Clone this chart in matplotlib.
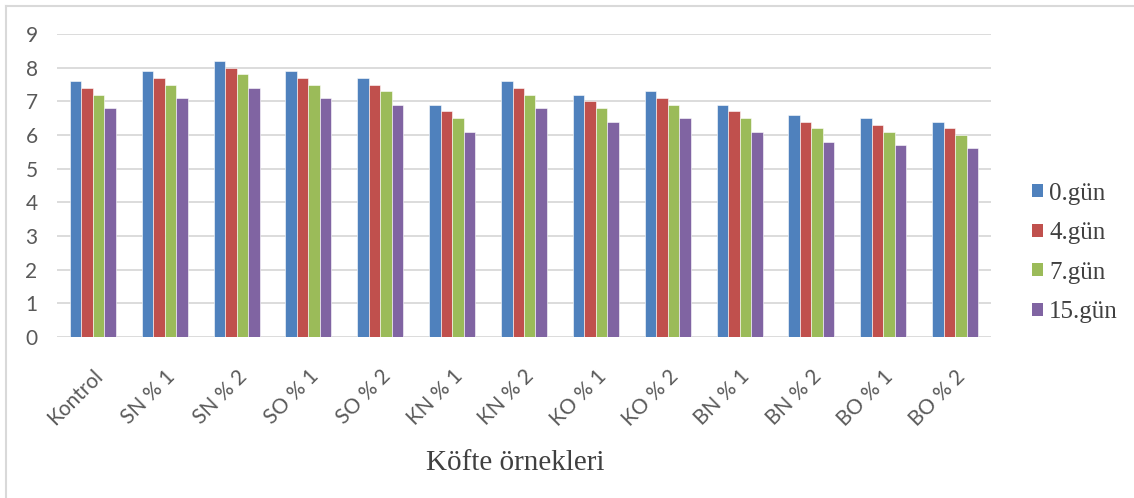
import numpy as np
import matplotlib
matplotlib.use("Agg")
import matplotlib.pyplot as plt
from matplotlib.lines import Line2D
from matplotlib.patches import Patch

# köfte örnekleri ve depolama günleri
categories = ["Kontrol", "SN % 1", "SN % 2", "SO % 1", "SO % 2", "KN % 1", "KN % 2",
              "KO % 1", "KO % 2", "BN % 1", "BN % 2", "BO % 1", "BO % 2"]
series_names = ["0.gün", "4.gün", "7.gün", "15.gün"]

gun_0 = [7.6, 7.9, 8.2, 7.9, 7.7, 6.9, 7.6, 7.2, 7.3, 6.9, 6.6, 6.5, 6.4]
gun_4 = [7.4, 7.7, 8.0, 7.7, 7.5, 6.7, 7.4, 7.0, 7.1, 6.7, 6.4, 6.3, 6.2]
gun_7 = [7.2, 7.5, 7.8, 7.5, 7.3, 6.5, 7.2, 6.8, 6.9, 6.5, 6.2, 6.1, 6.0]
gun_15 = [6.8, 7.1, 7.4, 7.1, 6.9, 6.1, 6.8, 6.4, 6.5, 6.1, 5.8, 5.7, 5.6]

yticks = list(range(0, 10))

colors = ["#4F81BD", "#C0504D", "#9BBB59", "#8064A2"]

fig = plt.figure(figsize=(11.34, 4.98), dpi=100)
ax = fig.add_axes([57 / 1134, 1 - 337 / 498, (991 - 57) / 1134, (337 - 34) / 498])

x = np.arange(len(categories))
w = 0.16
for i, vals in enumerate([gun_0, gun_4, gun_7, gun_15]):
    ax.bar(x + (i - 1.5) * w, vals, width=w, color=colors[i],
           edgecolor="white", linewidth=0.4, zorder=3)

ax.set_xlim(-0.5, len(categories) - 0.5)
ax.set_ylim(0, 9)
ax.set_yticks(yticks)
ax.set_yticklabels([str(t) for t in yticks], family="Lato", fontsize=15, color="#595959")
ax.set_xticks(x)
ax.set_xticklabels(categories, rotation=45, ha="right", rotation_mode="anchor",
                   family="Lato", fontsize=15, color="#595959")
ax.tick_params(axis="both", length=0)
ax.tick_params(axis="y", pad=14)
ax.tick_params(axis="x", pad=21)
ax.yaxis.grid(True, color="#d9d9d9", linewidth=1.3, zorder=0)
ax.set_axisbelow(True)
for s in ax.spines.values():
    s.set_visible(False)

fig.text(515 / 1134, 1 - 463 / 498, "Köfte örnekleri", family="Liberation Serif",
         fontsize=21, color="#404040", ha="center", va="center")

handles = [Patch(facecolor=c, edgecolor="none") for c in colors]
fig.legend(handles, series_names, loc="center left", bbox_to_anchor=(1032 / 1134, 1 - 253 / 498),
           frameon=False, prop={"family": "Liberation Serif", "size": 18},
           borderpad=0, borderaxespad=0,
           handlelength=0.44, handleheight=0.44, handletextpad=0.25, labelspacing=0.7,
           labelcolor="#404040")

# çerçeve: sol ve üst kenar
fig.add_artist(Line2D([6 / 1134, 6 / 1134], [0, 1 - 6 / 498], color="#d9d9d9", linewidth=1.5,
                      transform=fig.transFigure))
fig.add_artist(Line2D([6 / 1134, 1], [1 - 6 / 498, 1 - 6 / 498], color="#d9d9d9", linewidth=1.5,
                      transform=fig.transFigure))

fig.savefig("out.png", dpi=100)
